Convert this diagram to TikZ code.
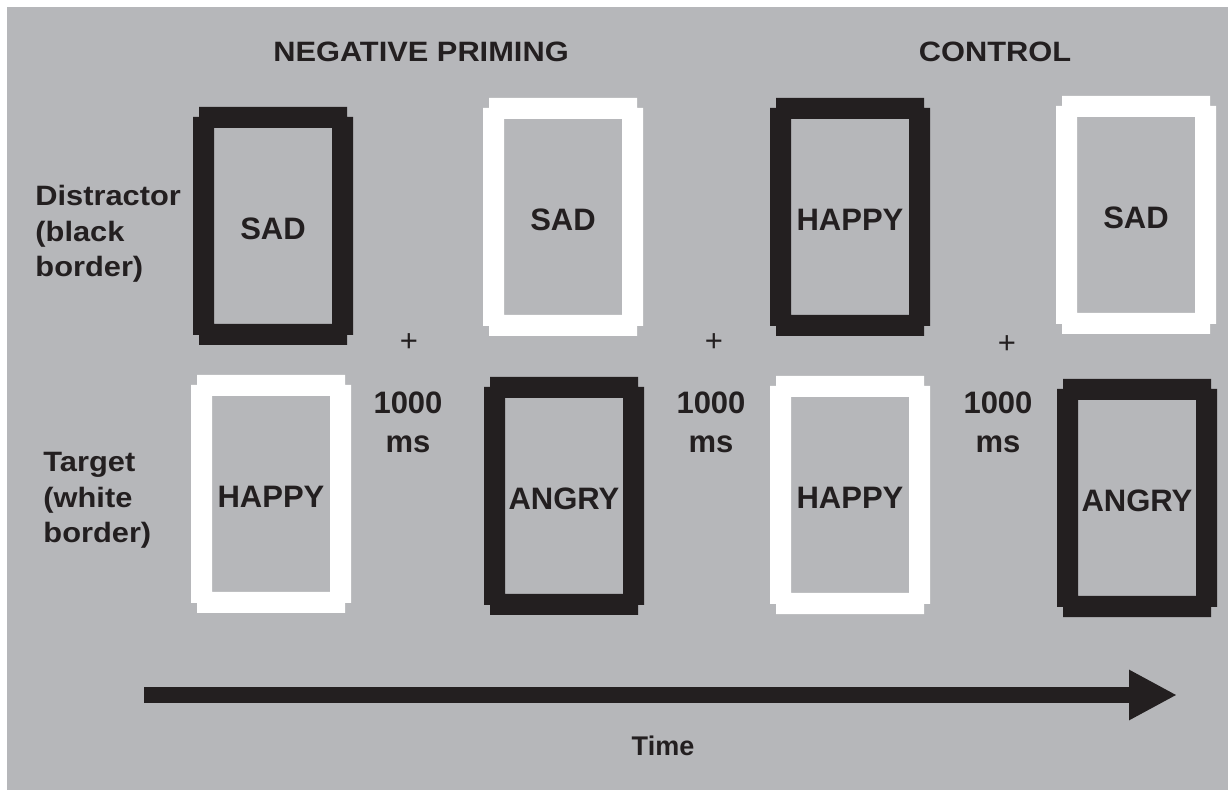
\documentclass[tikz,border=0pt]{standalone}
\usepackage{fontspec}
\setmainfont{Liberation Sans}
\usetikzlibrary{arrows.meta}
\definecolor{bggray}{RGB}{182,183,186}
\definecolor{inkblack}{RGB}{35,31,32}

\begin{document}
\begin{tikzpicture}[x=0.5pt,y=-0.5pt,
  word/.style={font=\bfseries\fontsize{15.5}{19.5}\selectfont,text=inkblack,inner sep=0pt},
  head/.style={font=\bfseries\fontsize{14}{17.75}\selectfont,text=inkblack,inner sep=0pt,xscale=1.1,transform shape},
  side/.style={head,align=left,anchor=north west},
  isi/.style={word,align=center},
  fix/.style={font=\fontsize{15.5}{19.5}\selectfont,text=inkblack,inner sep=0pt}]
  \useasboundingbox (0,0) rectangle (1228,791);
  \fill[white] (0,0) rectangle (1228,791);
  \fill[bggray] (7,7) rectangle (1228,790);
  \node[head] (negp) at (421,52) {NEGATIVE PRIMING};
  \node[head] (ctrl) at (995,52) {CONTROL};
  \node[side] (distr) at (35,185) {Distractor\\(black\\border)};
  \node[side] (targ) at (43,452) {Target\\(white\\border)};
  \foreach \x/\y/\c/\w/\n in {193/107/inkblack/SAD/a,483/98/white/SAD/b,
      770/98/inkblack/HAPPY/c,1056/96/white/SAD/d,191/375/white/HAPPY/e,
      484/377/inkblack/ANGRY/f,770/376/white/HAPPY/g,1057/379/inkblack/ANGRY/h}{
    \fill[\c,even odd rule] (\x+6,\y) -- ++(148,0) -- ++(0,10) -- ++(6,0)
      -- ++(0,218) -- ++(-6,0) -- ++(0,10) -- ++(-148,0) -- ++(0,-10)
      -- ++(-6,0) -- ++(0,-218) -- ++(6,0) -- cycle
      (\x+21,\y+21) rectangle ++(118,196);
    \node[word] (\n) at (\x+80,\y+122) {\w};
  }
  \node[fix] (fix1) at (409,343) {+};
  \node[fix] (fix2) at (714,343) {+};
  \node[fix] (fix3) at (1007,345) {+};
  \node[isi] (isi1) at (408,422) {1000\\ms};
  \node[isi] (isi2) at (711,422) {1000\\ms};
  \node[isi] (isi3) at (998,422) {1000\\ms};
  \coordinate (tstart) at (144,695);
  \coordinate (tend) at (1177,695);
  \draw[inkblack,line width=8pt,-{Triangle[length=24pt,width=23.5pt]}] (tstart) -- (tend);
  \node[head,xscale=1/1.1,font=\bfseries\fontsize{13.5}{16}\selectfont] (time) at (663,746) {Time};
\end{tikzpicture}
\end{document}
